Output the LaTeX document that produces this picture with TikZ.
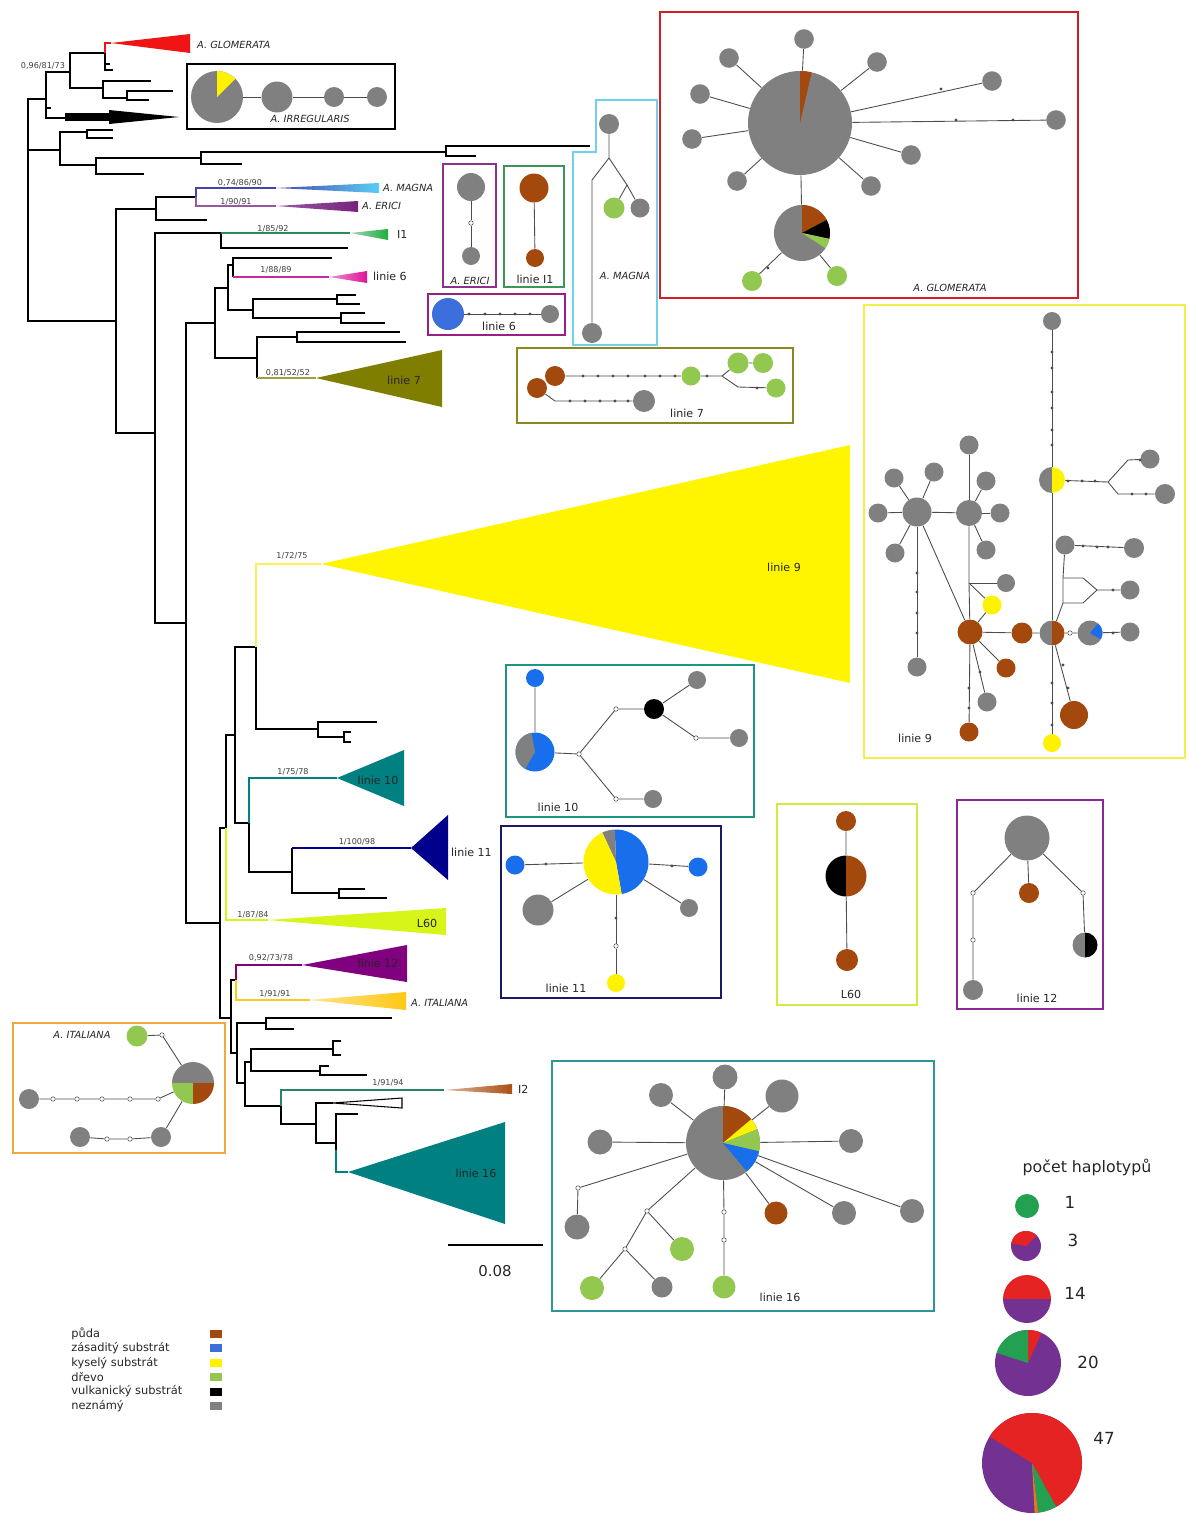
\documentclass[tikz,border=0pt]{standalone}
\usepackage{fontspec}
\setmainfont{DejaVu Sans}
\usepackage{tikz}
\usetikzlibrary{calc}

% substrate colours
\definecolor{puda}{RGB}{163,73,14}
\definecolor{zas}{RGB}{25,110,235}
\definecolor{zassix}{RGB}{60,110,220}
\definecolor{kys}{RGB}{255,242,0}
\definecolor{drevo}{RGB}{146,200,80}
\definecolor{vulk}{RGB}{0,0,0}
\definecolor{nezn}{RGB}{128,128,128}
% legend colours
\definecolor{hgreen}{RGB}{35,160,80}
\definecolor{hred}{RGB}{230,35,35}
\definecolor{hpurple}{RGB}{115,50,145}
\definecolor{horange}{RGB}{230,120,30}
% boxes
\definecolor{glombox}{RGB}{210,30,35}
\definecolor{magnabox}{RGB}{110,210,235}
\definecolor{ericibox}{RGB}{140,50,140}
\definecolor{ionebox}{RGB}{60,150,90}
\definecolor{lsixbox}{RGB}{155,30,135}
\definecolor{lsevenbox}{RGB}{140,135,30}
\definecolor{lninebox}{RGB}{240,240,70}
\definecolor{ltenbox}{RGB}{30,150,130}
\definecolor{lelevenbox}{RGB}{25,25,100}
\definecolor{lsixtybox}{RGB}{210,235,70}
\definecolor{ltwelvebox}{RGB}{140,40,150}
\definecolor{itabox}{RGB}{240,170,60}
\definecolor{lsixteenbox}{RGB}{45,150,150}
% clade branches and triangles
\definecolor{glomt}{RGB}{240,20,20}
\definecolor{magnal}{RGB}{70,70,170}
\definecolor{magnat}{RGB}{90,205,245}
\definecolor{ericil}{RGB}{150,90,160}
\definecolor{ericit}{RGB}{120,35,125}
\definecolor{ionel}{RGB}{40,140,90}
\definecolor{ionet}{RGB}{30,175,60}
\definecolor{lsixl}{RGB}{200,40,160}
\definecolor{lsixt}{RGB}{225,20,150}
\definecolor{lsevenl}{RGB}{160,160,60}
\definecolor{lsevent}{RGB}{128,126,0}
\definecolor{lninel}{RGB}{250,240,90}
\definecolor{lninet}{RGB}{255,245,0}
\definecolor{ltent}{RGB}{0,128,128}
\definecolor{lelevent}{RGB}{0,0,140}
\definecolor{lsixtyt}{RGB}{215,245,25}
\definecolor{ltwelvet}{RGB}{128,0,128}
\definecolor{itat}{RGB}{255,200,20}
\definecolor{itwol}{RGB}{40,130,110}
\definecolor{itwot}{RGB}{170,80,20}

\newcommand{\supfont}{\fontsize{4.6}{5}\selectfont}
\newcommand{\labfont}{\fontsize{6.3}{7}\selectfont}
\newcommand{\taxfont}{\fontsize{5.6}{6}\selectfont\itshape}
\newcommand{\legfont}{\fontsize{6.5}{7}\selectfont}

% pie: centre, radius (px), list colour/start/end
\newcommand{\piechart}[3]{%
  \begin{scope}[shift={(#1)}, yscale=-1]
    \foreach \col/\a/\b in {#3}
      \fill[\col] (0,0) -- (\a:#2) arc[start angle=\a, end angle=\b, radius=#2] -- cycle;
  \end{scope}}
% mutation dots on an edge
\newcommand{\mutdots}[1]{%
  \foreach \mx/\my in {#1} \fill[black!70] (\mx,\my) circle[radius=1.6];}

\begin{document}
\begin{tikzpicture}[x=0.02cm, y=-0.02cm,
  hap/.style={circle, inner sep=0pt, minimum size=#1*0.4mm},
  mv/.style={circle, draw=black!70, fill=white, inner sep=0pt, minimum size=0.9mm, line width=0.3pt},
  edge/.style={draw=black!70, line width=0.5pt},
  box/.style={draw=#1, line width=0.45mm},
  lab/.style={font=\labfont, text=black!85, inner sep=1pt},
  taxon/.style={font=\taxfont, text=black!85, inner sep=1pt},
  sup/.style={font=\supfont, text=black!75, inner sep=0.5pt}]

\useasboundingbox (0,0) rectangle (1190,1515);

% Tree
\begin{scope}[line width=0.8pt]
\draw (46,99) -| (28,321) -- (116,321);
\draw (28,150) -- (60,150);
\draw (70,72) -| (46,118) -- (65,118);
\draw (46,108) -- (51,108);
\draw (105,53) -| (70,88) -- (103,88);
\draw (105,53) -- (105,70) -- (113,70);
\draw (105,64) -- (110,64);
\draw (151,81) -| (103,98) -- (127,98);
\draw (173,91) -| (127,100) -- (149,100);
\draw (87,132) -| (60,165) -- (96,165);
\draw (113,130) -| (87,138) -- (113,138);
\draw (201,158) -| (96,174) -- (144,174);
\draw (446,152) -| (201,164) -- (242,164);
\draw (590,146) -| (446,156) -- (476,156);
\draw (156,209) -| (116,433) -- (155,433);
\draw (196,197) -| (156,220) -- (207,220);
\draw (221,233) -| (155,623) -- (186,623);
\draw (221,233) -- (221,248) -- (348,248);
\draw (215,323) -| (186,923) -- (220,923);
\draw (228,288) -| (215,358) -- (257,358);
\draw (233,265) -| (228,310) -- (253,310);
\draw (332,258) -| (233,277);
\draw (337,299) -| (253,318) -- (341,318);
\draw (356,295) -| (337,304) -- (360,304);
\draw (365,313) -| (341,323) -- (385,323);
\draw (297,337) -| (257,378);
\draw (400,332) -| (297,342) -- (406,342);
\draw (226,828) -| (220,1018) -- (231,1018);
\draw (235,735) -| (226,828);
\draw (256,647) -| (235,823) -- (249,823);
\draw (256,647) |- (318,729);
\draw (377,722) -| (318,737) -- (344,737);
\draw (351,732) -| (344,742) -- (351,742);
\draw (249,823) |- (292,872);
\draw (292,848) -- (292,893) -- (339,893);
\draw (365,889) -| (339,898) -- (387,898);
\draw (236,980) -| (231,1053) -- (237,1053);
\draw (266,1023) -| (237,1083) -- (245,1083);
\draw (392,1018) -| (266,1029) -- (294,1029);
\draw (251,1062) -| (245,1106) -- (281,1106);
\draw (333,1049) -| (251,1071) -- (320,1071);
\draw (341,1041) -| (333,1055) -- (341,1055);
\draw (329,1066) -| (320,1075) -- (367,1075);
\draw (281,1106) |- (316,1124);
\draw (333,1103) -| (316,1143) -- (336,1143);
\draw (358,1114) -| (336,1150);
% coloured branches
\draw[glomt] (111,43) -| (105,53);
\draw[magnal] (276,188) -| (196,197);
\draw[ericil] (276,206) -| (196,197);
\draw[ionel] (221,233) -- (350,233);
\draw[lsixl] (233,277) -- (329,277);
\draw[lsevenl] (257,378) -- (316,378);
\draw[lninel] (321,564) -| (256,647);
\draw[ltent] (337,778) -| (249,823);
\draw[lelevent] (292,848) -- (411,848);
\draw[lsixtyt] (226,828) |- (268,920);
\draw[ltwelvet] (302,965) -| (236,980);
\draw[itat] (236,980) |- (310,1000);
\draw[itwol] (281,1106) |- (444,1090);
\draw[ltent] (336,1150) |- (348,1172);
\end{scope}

% Collapsed clades
\fill[glomt] (111,43) -- (190,34) -- (190,53) -- cycle;
\fill (65,113) rectangle (109,121);
\fill (109,110) -- (179,117) -- (109,124) -- cycle;
\shade[left color=magnal, right color=magnat] (276,188) -- (379,183) -- (379,193) -- cycle;
\shade[left color=ericil, right color=ericit] (276,206) -- (358,201) -- (358,212) -- cycle;
\shade[left color=ionel!40, right color=ionet] (350,233) -- (388,229) -- (388,240) -- cycle;
\shade[left color=lsixl!50, right color=lsixt] (329,277) -- (367,271) -- (367,283) -- cycle;
\fill[lsevent] (316,378) -- (442,350) -- (442,407) -- cycle;
\fill[lninet] (321,564) -- (850,445) -- (850,683) -- cycle;
\fill[ltent] (337,778) -- (404,750) -- (404,806) -- cycle;
\fill[lelevent] (411,848) -- (448,815) -- (448,880) -- cycle;
\fill[lsixtyt] (268,920) -- (446,908) -- (446,935) -- cycle;
\fill[ltwelvet] (302,965) -- (407,945) -- (407,982) -- cycle;
\shade[left color=itat!50, right color=itat] (310,1000) -- (406,992) -- (406,1010) -- cycle;
\shade[left color=itwot!40, right color=itwot] (444,1090) -- (512,1084) -- (512,1094) -- cycle;
\draw[line width=0.6pt] (333,1103) -- (402,1098) -- (402,1108) -- cycle;
\fill[ltent] (348,1172) -- (505,1122) -- (505,1224) -- cycle;

% Clade labels
\node[taxon, anchor=west] (tglom) at (195,45) {A. GLOMERATA};
\node[taxon, anchor=west] (tmagna) at (381,188) {A. MAGNA};
\node[taxon, anchor=west] (terici) at (360,206) {A. ERICI};
\node[lab, anchor=west] (tione) at (395,234) {I1};
\node[lab, anchor=west] (tlsix) at (371,276) {linie 6};
\node[lab] (tlseven) at (404,380) {linie 7};
\node[lab] (tlnine) at (784,567) {linie 9};
\node[lab] (tlten) at (378,780) {linie 10};
\node[lab, anchor=west] (tleleven) at (449,852) {linie 11};
\node[lab] (tlsixty) at (427,923) {L60};
\node[lab] (tltwelve) at (378,963) {linie 12};
\node[taxon, anchor=west] (tita) at (409,1003) {A. ITALIANA};
\node[lab, anchor=west] (titwo) at (516,1089) {I2};
\node[lab] (tlsixteen) at (476,1173) {linie 16};

% Support values
\foreach \n/\x/\y/\t in {a/43/66/{0,96/81/73}, b/240/183/{0,74/86/90}, c/236/202/{1/90/91},
    d/273/229/{1/85/92}, e/276/270/{1/88/89}, f/288/373/{0,81/52/52}, g/292/556/{1/72/75},
    h/293/772/{1/75/78}, i/357/842/{1/100/98}, j/253/915/{1/87/84}, k/271/958/{0,92/73/78},
    l/275/994/{1/91/91}, m/388/1083/{1/91/94}}
  \node[sup] (sup\n) at (\x,\y) {\t};

% Scale bar
\coordinate (sbl) at (448,1245);
\coordinate (sbr) at (543,1245);
\draw[line width=0.8pt] (sbl) -- (sbr);
\node[font=\fontsize{8.5}{9}\selectfont, text=black!85] (sbt) at (495,1271) {0.08};

% A. IRREGULARIS
\draw[box=black] (187,64) rectangle (395,129);
\node[hap=26] (ir1) at (217,97) {};
\node[hap=15.5, fill=nezn] (ir2) at (277,97) {};
\node[hap=10, fill=nezn] (ir3) at (334,97) {};
\node[hap=10, fill=nezn] (ir4) at (377,97) {};
\piechart{ir1}{26}{nezn/0/360, kys/45/90}
\draw[edge] (ir1) -- (ir2) -- (ir3) -- (ir4);
\node[taxon] (irlab) at (310,119) {A. IRREGULARIS};

% A. GLOMERATA
\draw[box=glombox] (660,12) rectangle (1078,298);
\node[hap=52] (gl) at (800,123) {};
\node[hap=28] (gltwo) at (802,233) {};
\foreach \n/\x/\y in {1/804/39, 2/729/58, 3/877/62, 4/700/94, 5/692/139, 6/911/155, 7/737/181, 8/871/186, 9/992/81, 10/1056/120} {
  \node[hap=9.8, fill=nezn] (gs\n) at (\x,\y) {};
  \draw[edge] (gl) -- (gs\n);
}
\node[hap=10, fill=drevo] (gg1) at (752,281) {};
\node[hap=10, fill=drevo] (gg2) at (837,276) {};
\draw[edge] (gl) -- (gltwo);
\draw[edge] (gltwo) -- (gg1);
\draw[edge] (gltwo) -- (gg2);
\piechart{gl}{52}{nezn/0/360, puda/77/90}
\piechart{gltwo}{28}{nezn/0/360, puda/28/90, vulk/-12/28, drevo/-33/-12}
\mutdots{941/89, 956/120, 1013/120, 768/268}
\node[taxon] (gllab) at (950,288) {A. GLOMERATA};

% A. MAGNA
\draw[box=magnabox] (596,100) -- (657,100) -- (657,345) -- (573,345) -- (573,152) -- (596,152) -- cycle;
\node[hap=10, fill=nezn] (ma1) at (609,124) {};
\node[hap=10.5, fill=drevo] (ma2) at (614,208) {};
\node[hap=9.5, fill=nezn] (ma3) at (640,208) {};
\node[hap=10, fill=nezn] (ma4) at (592,333) {};
\coordinate (mak1) at (609,158);
\coordinate (mak2) at (592,180);
\coordinate (mak3) at (627,185);
\draw[edge] (ma1) -- (mak1) -- (mak2) -- (ma4);
\draw[edge] (mak1) -- (mak3) -- (ma2);
\draw[edge] (mak3) -- (ma3);
\node[taxon] (malab) at (625,276) {A. MAGNA};

% A. ERICI
\draw[box=ericibox] (443,164) rectangle (496,287);
\node[hap=14, fill=nezn] (er1) at (471,187) {};
\node[mv] (erm) at (471,223) {};
\node[hap=9, fill=nezn] (er2) at (471,256) {};
\draw[edge] (er1) -- (erm) -- (er2);
\node[taxon] (erlab) at (470,281) {A. ERICI};

% linie I1
\draw[box=ionebox] (504,166) rectangle (564,287);
\node[hap=14.5, fill=puda] (io1) at (534,188) {};
\node[hap=9, fill=puda] (io2) at (535,258) {};
\draw[edge] (io1) -- (io2);
\node[lab] (iolab) at (535,279) {linie I1};

% linie 6
\draw[box=lsixbox] (428,294) rectangle (565,335);
\node[hap=16, fill=zassix] (ls1) at (448,314) {};
\node[hap=9, fill=nezn] (ls2) at (550,314) {};
\draw[edge] (ls1) -- (ls2);
\mutdots{469/314, 485/314, 500/314, 515/314, 530/314}
\node[lab] (lslab) at (499,326) {linie 6};

% linie 7
\draw[box=lsevenbox] (517,348) rectangle (793,423);
\node[hap=10, fill=puda] (lv1) at (555,376) {};
\node[hap=10, fill=puda] (lv2) at (537,388) {};
\node[hap=9.5, fill=drevo] (lv3) at (691,376) {};
\node[hap=10.5, fill=drevo] (lv4) at (738,363) {};
\node[hap=10, fill=drevo] (lv5) at (763,363) {};
\node[hap=9.5, fill=drevo] (lv6) at (776,388) {};
\node[hap=11, fill=nezn] (lv7) at (644,401) {};
\coordinate (lvk1) at (722,376);
\coordinate (lvk2) at (738,387);
\coordinate (lvk3) at (555,401);
\draw[edge] (lv1) -- (lv3) -- (lvk1) -- (lv4) -- (lv5);
\draw[edge] (lvk1) -- (lvk2) -- (lv6);
\draw[edge] (lv2) -- (lvk3) -- (lv7);
\mutdots{583/376, 598/376, 613/376, 628/376, 645/376, 660/376, 675/376, 707/376, 757/388,
  570/401, 585/401, 600/401, 615/401, 628/401}
\node[lab] (lvlab) at (687,413) {linie 7};

% linie 9
\draw[box=lninebox] (864,305) rectangle (1185,758);
\node[hap=9, fill=nezn] (nt) at (1052,321) {};
\node[hap=13] (na) at (1052,480) {};
\node[hap=9.5, fill=nezn] (nb) at (1150,459) {};
\node[hap=10, fill=nezn] (nc) at (1165,494) {};
\node[hap=12.5] (nm) at (1052,633) {};
\node[hap=9, fill=kys] (ny) at (1052,743) {};
\node[hap=14, fill=puda] (nbb) at (1074,715) {};
\node[mv] (nmv) at (1070,633) {};
\node[hap=12.5] (nbl) at (1090,633) {};
\node[hap=9.5, fill=nezn] (nr) at (1130,632) {};
\node[hap=9.5, fill=nezn] (ng1) at (1065,545) {};
\node[hap=10, fill=nezn] (ng2) at (1134,548) {};
\node[hap=9.5, fill=nezn] (ng3) at (1130,590) {};
\node[hap=10.5, fill=puda] (nbr1) at (1022,633) {};
\node[hap=12.5, fill=puda] (nbr2) at (970,632) {};
\node[hap=13, fill=nezn] (nh2) at (969,513) {};
\node[hap=14.5, fill=nezn] (nh1) at (917,512) {};
\node[hap=9, fill=nezn] (ng4) at (1006,583) {};
\node[hap=9.5, fill=kys] (nye) at (992,605) {};
\node[hap=9.5, fill=puda] (nb3) at (1006,668) {};
\node[hap=9.5, fill=nezn] (ng5) at (987,702) {};
\node[hap=9.5, fill=puda] (nb4) at (969,732) {};
\node[hap=9.5, fill=nezn] (ng6) at (917,667) {};
\coordinate (nk1) at (1108,482);
\coordinate (nk2) at (1128,460);
\coordinate (nk3) at (1118,494);
\coordinate (nk4) at (1063,578);
\coordinate (nk5) at (1063,603);
\coordinate (nk6) at (1083,578);
\coordinate (nk7) at (1083,603);
\coordinate (nk8) at (1097,590);
\coordinate (nk9) at (969,583);
\draw[edge] (nt) -- (na) -- (nm) -- (ny);
\draw[edge] (na) -- (nk1) -- (nk2) -- (nb);
\draw[edge] (nk1) -- (nk3) -- (nc);
\draw[edge] (nm) -- (nk5) -- (nk4) -- (ng1) -- (ng2);
\draw[edge] (nk4) -- (nk6) -- (nk8) -- (ng3);
\draw[edge] (nk5) -- (nk7) -- (nk8);
\draw[edge] (nm) -- (nbb);
\draw[edge] (nm) -- (nmv) -- (nbl) -- (nr);
\draw[edge] (nm) -- (nbr1) -- (nbr2);
\draw[edge] (nbr2) -- (nk9) -- (nh2) -- (nh1) -- (nbr2);
\draw[edge] (nk9) -- (ng4);
\draw[edge] (nk9) -- (nye) -- (nbr2);
\draw[edge] (nbr2) -- (nb3);
\draw[edge] (nbr2) -- (ng5);
\draw[edge] (nbr2) -- (nb4);
\draw[edge] (nh1) -- (ng6);
\foreach \n/\x/\y in {1/894/478, 2/934/472, 3/878/513, 4/895/553} {
  \node[hap=9.5, fill=nezn] (nsa\n) at (\x,\y) {};
  \draw[edge] (nh1) -- (nsa\n);
}
\foreach \n/\x/\y in {1/969/445, 2/986/481, 3/1000/513, 4/986/550} {
  \node[hap=9.5, fill=nezn] (nsb\n) at (\x,\y) {};
  \draw[edge] (nh2) -- (nsb\n);
}
\piechart{na}{13}{nezn/90/270, kys/-90/90}
\piechart{nm}{12.5}{nezn/90/270, puda/-90/90}
\piechart{nbl}{12.5}{nezn/0/360, zas/-30/50}
\mutdots{1052/352, 1052/368, 1052/392, 1052/408, 1052/430, 1052/445, 1068/481, 1082/481, 1095/481,
  1140/460, 1132/494, 1146/494, 1083/546, 1097/547, 1108/547, 1113/590, 1113/633,
  1063/665, 1068/688, 1052/683, 1052/703, 1052/725, 917/573, 917/592, 917/613, 917/633,
  969/688, 969/708, 980/672}
\node[lab] (nlab) at (915,738) {linie 9};

% linie 10
\draw[box=ltenbox] (506,665) rectangle (754,817);
\node[hap=9, fill=zas] (ta) at (535,678) {};
\node[hap=19.5] (tp) at (535,752) {};
\node[mv] (tm1) at (579,754) {};
\node[mv] (tm2) at (616,709) {};
\node[mv] (tm3) at (616,799) {};
\node[mv] (tm4) at (696,738) {};
\node[hap=10, fill=vulk] (tk) at (654,709) {};
\node[hap=9, fill=nezn] (tg1) at (697,680) {};
\node[hap=9, fill=nezn] (tg2) at (739,738) {};
\node[hap=9, fill=nezn] (tg3) at (653,799) {};
\draw[edge] (ta) -- (tp) -- (tm1) -- (tm2) -- (tk) -- (tg1);
\draw[edge] (tk) -- (tm4) -- (tg2);
\draw[edge] (tm1) -- (tm3) -- (tg3);
\piechart{tp}{19.5}{zas/0/360, nezn/100/240}
\node[lab] (tlab) at (558,807) {linie 10};

% linie 11
\draw[box=lelevenbox] (501,826) rectangle (721,998);
\node[hap=32.5] (ep) at (616,862) {};
\node[hap=9.5, fill=zas] (eb1) at (515,865) {};
\node[hap=9.5, fill=zas] (eb2) at (698,867) {};
\node[hap=15.5, fill=nezn] (eg1) at (538,910) {};
\node[hap=9, fill=nezn] (eg2) at (689,908) {};
\node[mv] (em) at (616,946) {};
\node[hap=9, fill=kys] (ey) at (616,983) {};
\draw[edge] (ep) -- (eb1);
\draw[edge] (ep) -- (eb2);
\draw[edge] (ep) -- (eg1);
\draw[edge] (ep) -- (eg2);
\draw[edge] (ep) -- (em) -- (ey);
\piechart{ep}{32.5}{zas/-80/92, nezn/92/115, kys/115/280}
\mutdots{546/864, 672/866, 616/918}
\node[lab] (elab) at (566,988) {linie 11};

% L60
\draw[box=lsixtybox] (777,804) rectangle (917,1005);
\node[hap=10, fill=puda] (sa) at (846,821) {};
\node[hap=20.5] (sp) at (846,876) {};
\node[hap=11, fill=puda] (sb) at (847,960) {};
\draw[edge] (sa) -- (sp) -- (sb);
\piechart{sp}{20.5}{vulk/90/270, puda/-90/90}
\node[lab] (slab) at (851,994) {L60};

% linie 12
\draw[box=ltwelvebox] (957,800) rectangle (1103,1009);
\node[hap=22.5, fill=nezn] (wg) at (1027,838) {};
\node[hap=10, fill=puda] (wb) at (1029,893) {};
\node[mv] (wm1) at (973,893) {};
\node[mv] (wm2) at (973,940) {};
\node[hap=10, fill=nezn] (wg2) at (973,990) {};
\node[mv] (wm3) at (1083,893) {};
\node[hap=12.5] (wp) at (1085,945) {};
\draw[edge] (wg) -- (wm1) -- (wm2) -- (wg2);
\draw[edge] (wg) -- (wb);
\draw[edge] (wg) -- (wm3) -- (wp);
\piechart{wp}{12.5}{nezn/90/270, vulk/-90/90}
\node[lab] (wlab) at (1037,998) {linie 12};

% A. ITALIANA
\draw[box=itabox] (13,1023) rectangle (225,1153);
\node[hap=10.5, fill=drevo] (ig) at (137,1036) {};
\node[mv] (im1) at (162,1035) {};
\node[hap=21] (ip) at (193,1083) {};
\node[hap=10, fill=nezn] (ig1) at (29,1099) {};
\node[hap=10, fill=nezn] (ig2) at (80,1137) {};
\node[hap=10, fill=nezn] (ig3) at (161,1137) {};
\foreach \n/\x/\y in {2/53/1099, 3/77/1099, 4/102/1099, 5/130/1099, 6/158/1099, 7/107/1139, 8/130/1139}
  \node[mv] (im\n) at (\x,\y) {};
\draw[edge] (ig) -- (im1) -- (ip);
\draw[edge] (ig1) -- (im2) -- (im3) -- (im4) -- (im5) -- (im6) -- (ip);
\draw[edge] (ig2) -- (im7) -- (im8) -- (ig3) -- (ip);
\piechart{ip}{21}{nezn/0/180, drevo/180/270, puda/270/360}
\node[taxon] (ilab) at (82,1035) {A. ITALIANA};

% linie 16
\draw[box=lsixteenbox] (552,1061) rectangle (934,1311);
\node[hap=37] (xp) at (723,1143) {};
\foreach \n/\x/\y/\r in {1/725/1077/12.5, 2/661/1095/12, 3/782/1096/16.5, 4/600/1142/12.5,
    5/851/1141/12, 6/844/1213/12, 7/912/1211/12} {
  \node[hap=\r, fill=nezn] (xs\n) at (\x,\y) {};
  \draw[edge] (xp) -- (xs\n);
}
\node[hap=11.5, fill=puda] (xb) at (776,1213) {};
\node[mv] (xm1) at (578,1188) {};
\node[hap=12.5, fill=nezn] (xg1) at (577,1227) {};
\node[mv] (xm2) at (647,1211) {};
\node[hap=12, fill=drevo] (xd1) at (682,1249) {};
\node[mv] (xm3) at (625,1249) {};
\node[hap=12, fill=drevo] (xd2) at (592,1288) {};
\node[hap=10.5, fill=nezn] (xg2) at (662,1287) {};
\node[mv] (xm4) at (724,1212) {};
\node[mv] (xm5) at (724,1240) {};
\node[hap=11.5, fill=drevo] (xd3) at (724,1287) {};
\draw[edge] (xp) -- (xb);
\draw[edge] (xp) -- (xm1) -- (xg1);
\draw[edge] (xp) -- (xm2) -- (xd1);
\draw[edge] (xm2) -- (xm3) -- (xd2);
\draw[edge] (xm3) -- (xg2);
\draw[edge] (xp) -- (xm4) -- (xm5) -- (xd3);
\piechart{xp}{37}{nezn/0/360, puda/40/90, kys/22/40, drevo/-13/22, zas/-50/-13}
\node[lab] (xlab) at (780,1297) {linie 16};

% Legend: substrate
\foreach \i/\t/\col in {0/půda/puda, 1/zásaditý substrát/zassix, 2/kyselý substrát/kys,
    3/dřevo/drevo, 4/vulkanický substrát/vulk, 5/neznámý/nezn} {
  \pgfmathsetmacro{\yy}{1334+\i*14.4}
  \node[font=\legfont, text=black!85, anchor=west, inner sep=0pt] (leg\i) at (71,\yy) {\t};
  \fill[\col] (210,\yy-4) rectangle (222,\yy+4);
}

% Legend: number of haplotypes
\node[font=\fontsize{9}{11}\selectfont, text=black!85] (hapl) at (1087,1167) {počet haplotypů};
\piechart{1027,1206}{12}{hgreen/0/360}
\piechart{1026,1246}{15}{hpurple/0/360, hred/45/170}
\piechart{1027,1299}{24}{hred/0/180, hpurple/180/360}
\piechart{1028,1363}{33}{hpurple/0/360, hred/66/90, hgreen/90/162}
\piechart{1032,1463}{50}{hpurple/0/360, hred/-61/148, hgreen/-83/-61, horange/-87/-83}
\foreach \n/\x/\y in {1/1070/1202, 3/1073/1240, 14/1075/1293, 20/1088/1362, 47/1104/1438}
  \node[font=\fontsize{9.5}{11}\selectfont, text=black!85] (num\n) at (\x,\y) {\n};
\end{tikzpicture}
\end{document}
